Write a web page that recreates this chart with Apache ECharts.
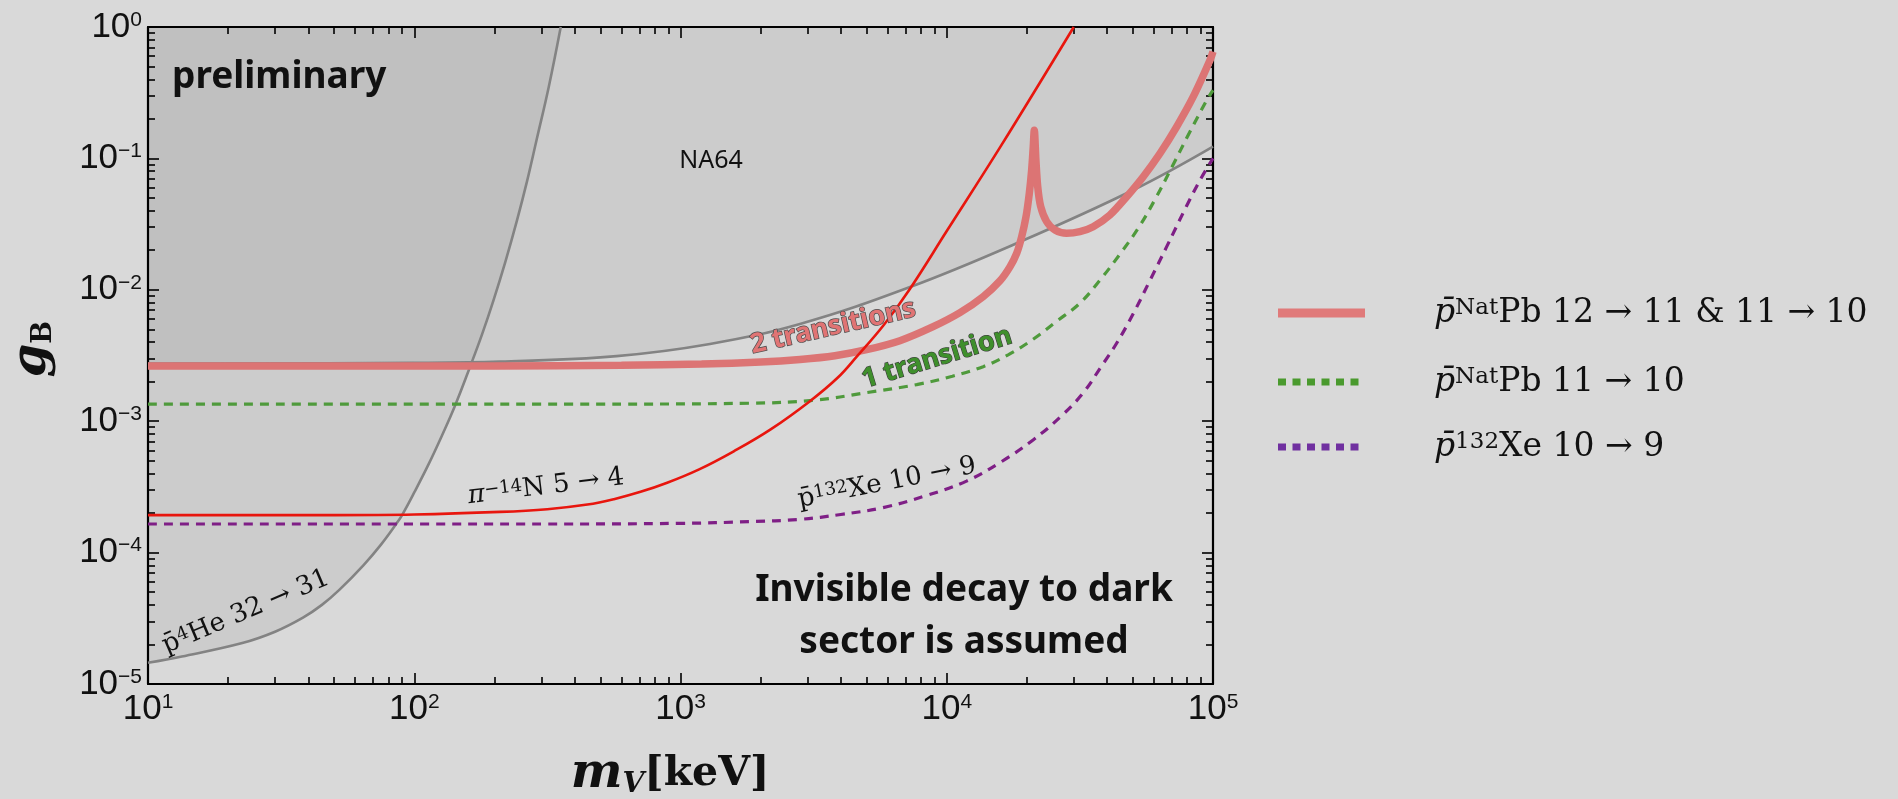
<!DOCTYPE html>
<html><head><meta charset="utf-8">
<script src="https://cdn.jsdelivr.net/npm/echarts@6/dist/echarts.min.js"></script>
<style>html,body{margin:0;padding:0;background:#d9d9d9;}#c{width:1898px;height:799px;}</style>
</head><body><div id="c"></div>
<script>
// ---- data (m_V in keV, g_B) ----
const massTicks = [10, 100, 1000, 10000, 100000];
const couplingTicks = [1e-5, 1e-4, 1e-3, 1e-2, 1e-1, 1];
const minorSteps = [2, 3, 4, 5, 6, 7, 8, 9];

const na64Bound = [[10,2.75e-3],[100,2.78e-3],[210,2.84e-3],[575,3.13e-3],[1290,3.87e-3],[2810,5.5e-3],[7280,0.0105],[18300,0.0226],[50200,0.0575],[100000,0.123]];
const pHe4Bound = [[10,1.45e-5],[13.4,1.62e-5],[22.6,2.05e-5],[30,2.5e-5],[38.2,3.2e-5],[45,4.0e-5],[52.3,5.2e-5],[64.4,8.0e-5],[75,1.15e-4],[85.7,1.66e-4],[90,1.93e-4],[100,2.87e-4],[113,4.67e-4],[127,7.76e-4],[142,1.3e-3],[163,2.68e-3],[180,4.62e-3],[198,8.2e-3],[220,0.0164],[243,0.0336],[265,0.0665],[288,0.138],[320,0.35],[355,1.0]];
const pionN14 = [[10,1.93e-4],[50,1.93e-4],[100,1.95e-4],[210,2.04e-4],[316,2.14e-4],[447,2.32e-4],[562,2.55e-4],[708,2.9e-4],[891,3.4e-4],[1175,4.3e-4],[1585,5.9e-4],[2188,8.7e-4],[3062,1.42e-3],[3900,2.15e-3],[4590,3.1e-3],[5800,5.4e-3],[7280,1.02e-2],[10000,2.8e-2],[16000,0.125],[30000,1.0]];
const pbTwoTrans = [[10,2.63e-3],[200,2.63e-3],[600,2.66e-3],[1200,2.72e-3],[2000,2.82e-3],[2811,2.95e-3],[3800,3.15e-3],[5000,3.5e-3],[6670,4.1e-3],[8890,5.24e-3],[11210,6.7e-3],[13710,8.87e-3],[15850,0.0117],[17290,0.015],[18320,0.019],[19120,0.0254],[19850,0.036],[20420,0.0542],[20840,0.0816],[21130,0.1227],[21320,0.164],[21620,0.0972],[21960,0.061],[22540,0.0429],[23730,0.033],[25500,0.0285],[28200,0.0269],[31620,0.0277],[35480,0.0302],[41000,0.0371],[47400,0.0511],[54700,0.0726],[63200,0.109],[73000,0.174],[84300,0.295],[97500,0.561],[100000,0.649]];
const pbOneTrans = [[10,1.35e-3],[500,1.35e-3],[1820,1.37e-3],[3240,1.45e-3],[5000,1.65e-3],[7710,1.9e-3],[10500,2.2e-3],[13700,2.6e-3],[17000,3.2e-3],[21100,4.2e-3],[26000,5.8e-3],[31600,7.9e-3],[37700,0.0119],[45000,0.019],[52700,0.030],[61000,0.05],[70200,0.0865],[82000,0.16],[95000,0.28],[100000,0.33]];
const xe132 = [[10,1.65e-4],[300,1.65e-4],[1000,1.67e-4],[1820,1.72e-4],[2810,1.79e-4],[4000,1.95e-4],[5770,2.2e-4],[8300,2.7e-4],[11860,3.5e-4],[16000,4.9e-4],[21100,7.2e-4],[27000,1.1e-3],[32600,1.65e-3],[38000,2.6e-3],[43400,3.9e-3],[50200,6.6e-3],[58000,0.0118],[67000,0.0213],[79400,0.043],[90000,0.07],[100000,0.1]];

function minorsOf(majors){ const out=[]; for(let i=0;i<majors.length-1;i++){ for(const s of minorSteps) out.push(majors[i]*s);} return out; }
const massMinor = minorsOf(massTicks);
const couplingMinor = minorsOf(couplingTicks);

const sansLbl = 'Liberation Sans, Arial, sans-serif';
function expLabel(v){ const e = Math.round(Math.log10(v)); return '{b|10}{s|' + (e<0?'\u2212':'') + Math.abs(e) + '}'; }
const labelRich = { b:{fontSize:35, fontFamily:sansLbl, color:'#111'}, s:{fontSize:21, fontFamily:sansLbl, color:'#111', verticalAlign:'top'} };

function mkAxis(kind, pos, ticks, len, line, label){
  const ax = { type:'log', logBase:10, position:pos,
    min: kind==='x'?10:1e-5, max: kind==='x'?1e5:1,
    axisLine:{show:line, onZero:false, lineStyle:{color:'#000', width:2.2}},
    axisTick:{show:true, inside:true, length:len, customValues:ticks, lineStyle:{color:'#000', width:1.6}},
    axisLabel:{show:label}, splitLine:{show:false}, minorTick:{show:false}, minorSplitLine:{show:false} };
  if(label){ ax.axisLabel = {show:true, customValues:ticks, formatter:expLabel, rich:labelRich, margin: kind==='x'?8:6}; }
  return ax;
}

const chart = echarts.init(document.getElementById('c'), null, {renderer:'canvas'});
const serif = 'DejaVu Serif, serif';

const option = {
  backgroundColor:'#d9d9d9', animation:false,
  grid:{left:148, top:27, width:1065, height:657, containLabel:false},
  xAxis:[ mkAxis('x','bottom',massTicks,11,true,true), mkAxis('x','bottom',massMinor,7,false,false),
          mkAxis('x','top',massTicks,11,true,false), mkAxis('x','top',massMinor,7,false,false) ],
  yAxis:[ mkAxis('y','left',couplingTicks,11,true,true), mkAxis('y','left',couplingMinor,7,false,false),
          mkAxis('y','right',couplingTicks,11,true,false), mkAxis('y','right',couplingMinor,7,false,false) ],
  series:[
    {name:'NA64', type:'line', data:na64Bound, showSymbol:false, symbol:'none', smooth:0.4, z:1,
     lineStyle:{color:'#838383', width:2.6}, areaStyle:{color:'rgba(0,0,0,0.085)', origin:'end'}},
    {name:'pHe', type:'line', data:pHe4Bound, showSymbol:false, symbol:'none', smooth:0.4, z:1,
     lineStyle:{color:'#838383', width:2.6}, areaStyle:{color:'rgba(0,0,0,0.085)', origin:'end'}},
    {name:'Pb2', type:'line', data:pbTwoTrans, showSymbol:false, symbol:'none', smooth:0.3, z:3,
     lineStyle:{color:'#dc7474', width:7.5, join:'bevel', cap:'butt'}},
    {name:'Pb1', type:'line', data:pbOneTrans, showSymbol:false, symbol:'none', smooth:0.4, z:3,
     lineStyle:{color:'#4f9a3c', width:3.2, type:[9,7]}},
    {name:'Xe', type:'line', data:xe132, showSymbol:false, symbol:'none', smooth:0.4, z:3,
     lineStyle:{color:'#7f1f86', width:3.2, type:[9,7]}},
    {name:'pion', type:'line', data:pionN14, showSymbol:false, symbol:'none', smooth:0.4, z:4,
     lineStyle:{color:'#e8160e', width:2.6}}
  ]
};
chart.setOption(option);

const deg = Math.PI/180;
const annRich = (big, small) => ({i:{fontFamily:serif, fontStyle:'italic', fontSize:big, fill:'#111'}, s:{fontFamily:serif, fontSize:small, fill:'#111', verticalAlign:'top'}, r:{fontFamily:serif, fontSize:big, fill:'#111'}});
const graphics = [
  {type:'text', x:172, y:77, z:10, style:{text:'preliminary', font:'bold 37px Noto Sans', fill:'#111', align:'left', verticalAlign:'middle'}},
  {type:'text', x:711, y:161, z:10, style:{text:'NA64', font:'25px Noto Sans', fill:'#111', align:'center', verticalAlign:'middle'}},
  {type:'text', x:833, y:327, rotation:12.8*deg, z:10, style:{text:'2 transitions', font:'bold 27px Noto Sans', fill:'#e07474', stroke:'#4d4d4d', lineWidth:1.4, align:'center', verticalAlign:'middle'}},
  {type:'text', x:937, y:358, rotation:17*deg, z:10, style:{text:'1 transition', font:'bold 27px Noto Sans', fill:'#3f8f2c', stroke:'#3a3a3a', lineWidth:1.2, align:'center', verticalAlign:'middle'}},
  {type:'text', x:546, y:487, rotation:7*deg, z:10, style:{text:'{i|\u03c0}{s|\u221214}{r|N 5 \u2192 4}', align:'center', verticalAlign:'middle', rich:annRich(26,18)}},
  {type:'text', x:887, y:483, rotation:11*deg, z:10, style:{text:'{r|p\u0304}{s|132}{r|Xe 10 \u2192 9}', align:'center', verticalAlign:'middle', rich:annRich(26,18)}},
  {type:'text', x:246, y:612, rotation:23*deg, z:10, style:{text:'{r|p\u0304}{s|4}{r|He 32 \u2192 31}', align:'center', verticalAlign:'middle', rich:annRich(26,18)}},
  {type:'text', x:964, y:590, z:10, style:{text:'Invisible decay to dark', font:'bold 37px Noto Sans', fill:'#111', align:'center', verticalAlign:'middle'}},
  {type:'text', x:964, y:642, z:10, style:{text:'sector is assumed', font:'bold 37px Noto Sans', fill:'#111', align:'center', verticalAlign:'middle'}},
  // axis titles
  {type:'text', x:670, y:774, z:10, style:{text:'{m|m}{v|V}{k|[keV]}', align:'center', verticalAlign:'middle',
     rich:{m:{fontFamily:serif, fontWeight:'bold', fontStyle:'italic', fontSize:49, fill:'#111'}, v:{fontFamily:serif, fontWeight:'bold', fontStyle:'italic', fontSize:28, fill:'#111', verticalAlign:'bottom'}, k:{fontFamily:serif, fontWeight:'bold', fontSize:41, fill:'#111'}}}},
  {type:'text', x:33, y:349, rotation:90*deg, z:10, style:{text:'{g|g}{b|B}', align:'center', verticalAlign:'middle',
     rich:{g:{fontFamily:serif, fontWeight:'bold', fontStyle:'italic', fontSize:48, fill:'#111'}, b:{fontFamily:serif, fontWeight:'bold', fontSize:27, fill:'#111', verticalAlign:'bottom'}}}},
  // legend
  {type:'line', z:10, shape:{x1:1278, y1:313, x2:1365, y2:313}, style:{stroke:'#e07a7a', lineWidth:9}},
  {type:'line', z:10, shape:{x1:1278, y1:382, x2:1362, y2:382}, style:{stroke:'#4a9a2e', lineWidth:7, lineDash:[8,6.5]}},
  {type:'line', z:10, shape:{x1:1278, y1:447, x2:1362, y2:447}, style:{stroke:'#7030a0', lineWidth:7, lineDash:[8,6.5]}},
  {type:'text', x:1434, y:313, z:10, style:{text:'{p|p\u0304}{s|Nat}{r|Pb 12 \u2192 11 & 11 \u2192 10}', align:'left', verticalAlign:'middle',
     rich:{p:{fontFamily:serif, fontStyle:'italic', fontSize:33, fill:'#111'}, s:{fontFamily:serif, fontSize:23, fill:'#111', verticalAlign:'top'}, r:{fontFamily:serif, fontSize:33, fill:'#111'}}}},
  {type:'text', x:1434, y:382, z:10, style:{text:'{p|p\u0304}{s|Nat}{r|Pb 11 \u2192 10}', align:'left', verticalAlign:'middle',
     rich:{p:{fontFamily:serif, fontStyle:'italic', fontSize:33, fill:'#111'}, s:{fontFamily:serif, fontSize:23, fill:'#111', verticalAlign:'top'}, r:{fontFamily:serif, fontSize:33, fill:'#111'}}}},
  {type:'text', x:1434, y:447, z:10, style:{text:'{p|p\u0304}{s|132}{r|Xe 10 \u2192 9}', align:'left', verticalAlign:'middle',
     rich:{p:{fontFamily:serif, fontStyle:'italic', fontSize:33, fill:'#111'}, s:{fontFamily:serif, fontSize:23, fill:'#111', verticalAlign:'top'}, r:{fontFamily:serif, fontSize:33, fill:'#111'}}}}
];
chart.setOption({graphic:{elements:graphics}});
</script></body></html>
